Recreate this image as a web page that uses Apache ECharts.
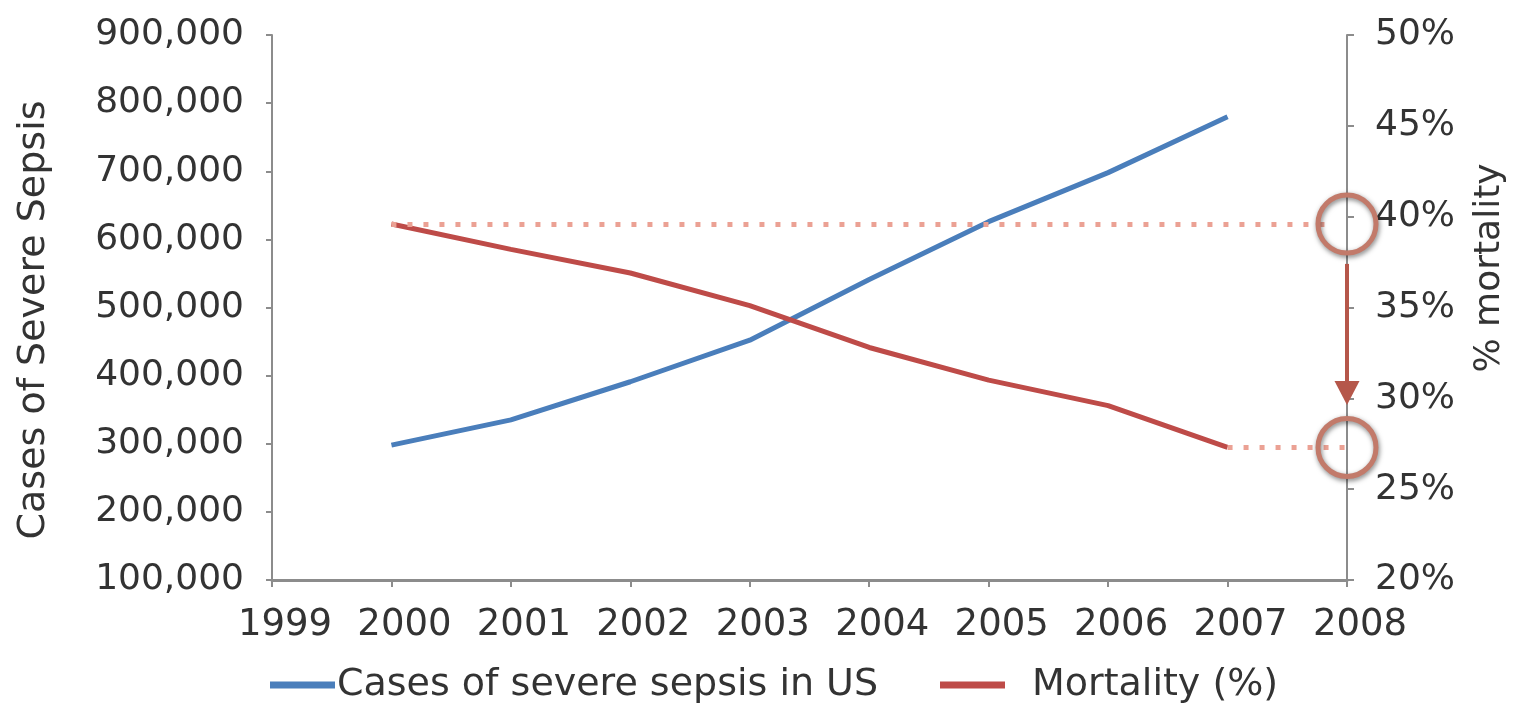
<!DOCTYPE html>
<html>
<head>
<meta charset="utf-8">
<style>
  html, body { margin: 0; padding: 0; background: #ffffff; }
  #chart { width: 1520px; height: 705px; }
</style>
<script src="https://cdn.jsdelivr.net/npm/echarts@6/dist/echarts.min.js"></script>
</head>
<body>
<div id="chart"></div>
<script>
// Severe sepsis cases in the US vs. hospital mortality, 2000-2007
const years = [2000, 2001, 2002, 2003, 2004, 2005, 2006, 2007];
const cases = [298000, 335000, 391000, 452000, 541000, 626000, 698000, 780000];
const mortality = [39.6, 38.2, 36.9, 35.1, 32.8, 31.0, 29.6, 27.3];

const casesName = 'Cases of severe sepsis in US';
const mortalityName = 'Mortality (%)';
const leftTitle = 'Cases of Severe Sepsis';
const rightTitle = '% mortality';

const xMin = 1999, xMax = 2008;
const casesMin = 100000, casesMax = 900000, casesStep = 100000;
const pctMin = 20, pctMax = 50, pctStep = 5;

const FONT = 'DejaVu Sans';
const TEXT = '#333333';
const AXIS = '#8c8c8c';
const BLUE = '#4a7ebb';
const RED = '#be4b48';
const DOT = '#eba194';
const RING = '#c27a6a';

const chart = echarts.init(document.getElementById('chart'), null, { renderer: 'canvas' });

const casesData = years.map((y, i) => [y, cases[i]]);
const mortData = years.map((y, i) => [y, mortality[i]]);

const startPct = mortality[0];
const endPct = mortality[mortality.length - 1];

const dotted = { color: DOT, width: 5, type: [5, 11], cap: 'butt' };

chart.setOption({
  animation: false,
  backgroundColor: '#ffffff',
  grid: { left: 272, right: 173, top: 35, bottom: 125, containLabel: false },
  xAxis: {
    type: 'value', min: xMin, max: xMax, interval: 1,
    splitLine: { show: false },
    axisLine: { show: true, lineStyle: { color: AXIS, width: 3 } },
    axisTick: { show: true, length: 7, lineStyle: { color: AXIS, width: 2 } },
    axisLabel: {
      margin: 27, color: TEXT, fontFamily: FONT, fontSize: 37,
      padding: [0, 0, 0, 26], formatter: v => String(v)
    }
  },
  yAxis: [
    {
      type: 'value', min: casesMin, max: casesMax, interval: casesStep,
      splitLine: { show: false },
      axisLine: { show: true, lineStyle: { color: AXIS, width: 2 } },
      axisTick: { show: true, length: 6, lineStyle: { color: AXIS, width: 2 } },
      axisLabel: {
        margin: 28, color: TEXT, fontFamily: FONT, fontSize: 36,
        padding: [0, 0, 6, 0],
        formatter: v => v.toLocaleString('en-US')
      }
    },
    {
      type: 'value', min: pctMin, max: pctMax, interval: pctStep, position: 'right',
      splitLine: { show: false },
      axisLine: { show: true, lineStyle: { color: AXIS, width: 2 } },
      axisTick: { show: true, length: 7, lineStyle: { color: AXIS, width: 2 } },
      axisLabel: { margin: 28, color: TEXT, fontFamily: FONT, fontSize: 36, formatter: v => v + '%' }
    }
  ],
  legend: [
    {
      left: 265, top: 661, itemWidth: 65, itemHeight: 7, icon: 'rect', itemGap: 0,
      textStyle: { color: TEXT, fontFamily: FONT, fontSize: 38, padding: [0, 0, 0, -3] },
      data: [casesName]
    },
    {
      left: 935, top: 661, itemWidth: 65, itemHeight: 7, icon: 'rect', itemGap: 0,
      textStyle: { color: TEXT, fontFamily: FONT, fontSize: 38, padding: [0, 0, 0, 22] },
      data: [mortalityName]
    }
  ],
  graphic: [
    {
      type: 'text', rotation: Math.PI / 2, x: 34, y: 320,
      style: { text: leftTitle, fill: TEXT, font: '38px "DejaVu Sans"', align: 'center', verticalAlign: 'middle' }
    },
    {
      type: 'text', rotation: Math.PI / 2, x: 1490, y: 268,
      style: { text: rightTitle, fill: TEXT, font: '36px "DejaVu Sans"', align: 'center', verticalAlign: 'middle' }
    }
  ],
  series: [
    {
      name: casesName, type: 'line', yAxisIndex: 0, data: casesData,
      showSymbol: false, symbol: 'none',
      lineStyle: { color: BLUE, width: 5 }, itemStyle: { color: BLUE }
    },
    {
      name: mortalityName, type: 'line', yAxisIndex: 1, data: mortData,
      showSymbol: false, symbol: 'none',
      lineStyle: { color: RED, width: 5 }, itemStyle: { color: RED },
      markLine: {
        silent: true, symbol: ['none', 'none'], label: { show: false },
        data: [
          [
            { coord: [years[0], startPct], lineStyle: dotted },
            { coord: [xMax - 0.15, startPct] }
          ],
          [
            { coord: [years[years.length - 1], endPct], lineStyle: dotted },
            { coord: [xMax, endPct] }
          ],
          [
            { coord: [xMax, startPct - 2.2], symbol: 'none', lineStyle: { color: '#b5574a', width: 4, type: 'solid' } },
            { coord: [xMax, endPct + 3.0], symbol: 'triangle', symbolSize: [25, 24], symbolRotate: 180 }
          ]
        ]
      },
      markPoint: {
        silent: true, symbol: 'circle', symbolSize: 58, label: { show: false },
        itemStyle: {
          color: 'rgba(0,0,0,0)', borderColor: RING, borderWidth: 5,
          shadowColor: 'rgba(0,0,0,0.5)', shadowBlur: 5, shadowOffsetX: 1, shadowOffsetY: 2
        },
        data: [
          { coord: [xMax, startPct] },
          { coord: [xMax, endPct] }
        ]
      }
    }
  ]
});
</script>
</body>
</html>
